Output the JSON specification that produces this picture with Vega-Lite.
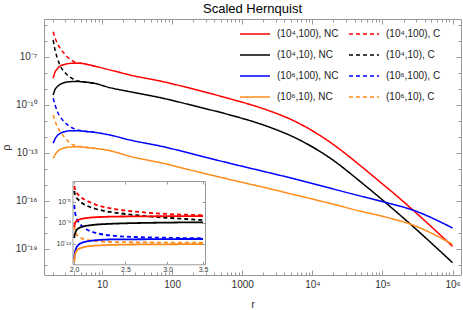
{
  "$schema": "https://vega.github.io/schema/vega-lite/v6.json",
  "width": 417,
  "height": 256,
  "autosize": "none",
  "padding": {"left": 44, "top": 19, "right": 2, "bottom": 35},
  "title": {"text": "Scaled Hernquist", "anchor": "middle", "frame": "group", "fontSize": 13, "fontWeight": "normal", "font": "Liberation Sans", "color": "#000000", "baseline": "alphabetic", "offset": -8},
  "config": {
    "font": "Liberation Sans",
    "view": {"stroke": "#999999", "strokeWidth": 1},
    "axis": {"grid": false, "domain": false, "tickColor": "#999999", "labelColor": "#333333", "labelFont": "Liberation Sans", "titleFont": "Liberation Sans", "titleColor": "#333333", "titleFontWeight": "normal", "tickWidth": 1}
  },
  "datasets": {
    "main": [
      {"s": "(10⁴,100), C", "r": 2.01, "rho": 3.81e-6}, {"s": "(10⁴,100), C", "r": 2.14, "rho": 1.54e-6}, {"s": "(10⁴,100), C", "r": 2.31, "rho": 7.18e-7}, {"s": "(10⁴,100), C", "r": 2.52, "rho": 3.65e-7}, {"s": "(10⁴,100), C", "r": 2.88, "rho": 1.70e-7}, {"s": "(10⁴,100), C", "r": 3.2, "rho": 1.0e-7}, {"s": "(10⁴,100), C", "r": 3.5, "rho": 7.29e-8}, {"s": "(10⁴,100), C", "r": 4.0, "rho": 5.08e-8}, {"s": "(10⁴,100), C", "r": 4.45, "rho": 4.28e-8}, {"s": "(10⁴,100), C", "r": 5.0, "rho": 4.06e-8}, {"s": "(10⁴,100), C", "r": 5.54, "rho": 3.77e-8}, {"s": "(10⁴,100), C", "r": 7.7, "rho": 2.74e-8},
      {"s": "(10⁴,10), C", "r": 2.01, "rho": 1.155e-6}, {"s": "(10⁴,10), C", "r": 2.14, "rho": 2.74e-7}, {"s": "(10⁴,10), C", "r": 2.31, "rho": 8.30e-8}, {"s": "(10⁴,10), C", "r": 2.52, "rho": 2.94e-8}, {"s": "(10⁴,10), C", "r": 2.88, "rho": 1.24e-8}, {"s": "(10⁴,10), C", "r": 3.2, "rho": 7.50e-9}, {"s": "(10⁴,10), C", "r": 3.5, "rho": 5.46e-9}, {"s": "(10⁴,10), C", "r": 4.0, "rho": 3.87e-9}, {"s": "(10⁴,10), C", "r": 4.45, "rho": 3.16e-9}, {"s": "(10⁴,10), C", "r": 5.0, "rho": 2.94e-9}, {"s": "(10⁴,10), C", "r": 5.54, "rho": 2.75e-9}, {"s": "(10⁴,10), C", "r": 7.7, "rho": 2.27e-9},
      {"s": "(10⁶,100), C", "r": 2.01, "rho": 2.62e-10}, {"s": "(10⁶,100), C", "r": 2.14, "rho": 1.0e-10}, {"s": "(10⁶,100), C", "r": 2.31, "rho": 3.81e-11}, {"s": "(10⁶,100), C", "r": 2.52, "rho": 1.91e-11}, {"s": "(10⁶,100), C", "r": 2.88, "rho": 9.04e-12}, {"s": "(10⁶,100), C", "r": 3.2, "rho": 5.87e-12}, {"s": "(10⁶,100), C", "r": 3.5, "rho": 4.40e-12}, {"s": "(10⁶,100), C", "r": 4.0, "rho": 3.30e-12}, {"s": "(10⁶,100), C", "r": 4.45, "rho": 2.74e-12}, {"s": "(10⁶,100), C", "r": 5.0, "rho": 2.48e-12}, {"s": "(10⁶,100), C", "r": 5.54, "rho": 2.31e-12}, {"s": "(10⁶,100), C", "r": 7.7, "rho": 1.97e-12},
      {"s": "(10⁶,10), C", "r": 2.01, "rho": 2.37e-11}, {"s": "(10⁶,10), C", "r": 2.14, "rho": 1.0e-11}, {"s": "(10⁶,10), C", "r": 2.31, "rho": 4.40e-12}, {"s": "(10⁶,10), C", "r": 2.52, "rho": 2.21e-12}, {"s": "(10⁶,10), C", "r": 2.88, "rho": 1.04e-12}, {"s": "(10⁶,10), C", "r": 3.2, "rho": 6.04e-13}, {"s": "(10⁶,10), C", "r": 3.5, "rho": 4.04e-13}, {"s": "(10⁶,10), C", "r": 4.0, "rho": 3.16e-13}, {"s": "(10⁶,10), C", "r": 4.45, "rho": 2.74e-13}, {"s": "(10⁶,10), C", "r": 5.0, "rho": 2.51e-13}, {"s": "(10⁶,10), C", "r": 5.54, "rho": 2.31e-13}, {"s": "(10⁶,10), C", "r": 7.7, "rho": 1.97e-13},
      {"s": "(10⁴,100), NC", "r": 2.01, "rho": 4.67e-9}, {"s": "(10⁴,100), NC", "r": 2.14, "rho": 1.155e-8}, {"s": "(10⁴,100), NC", "r": 2.31, "rho": 1.83e-8}, {"s": "(10⁴,100), NC", "r": 2.52, "rho": 2.74e-8}, {"s": "(10⁴,100), NC", "r": 2.88, "rho": 3.40e-8}, {"s": "(10⁴,100), NC", "r": 3.2, "rho": 3.76e-8}, {"s": "(10⁴,100), NC", "r": 3.5, "rho": 3.98e-8}, {"s": "(10⁴,100), NC", "r": 4.0, "rho": 4.10e-8}, {"s": "(10⁴,100), NC", "r": 4.45, "rho": 4.10e-8}, {"s": "(10⁴,100), NC", "r": 5.0, "rho": 4.04e-8}, {"s": "(10⁴,100), NC", "r": 5.54, "rho": 3.76e-8}, {"s": "(10⁴,100), NC", "r": 7.7, "rho": 2.74e-8}, {"s": "(10⁴,100), NC", "r": 13, "rho": 1.54e-8}, {"s": "(10⁴,100), NC", "r": 25, "rho": 7.50e-9}, {"s": "(10⁴,100), NC", "r": 74.6, "rho": 2.86e-9}, {"s": "(10⁴,100), NC", "r": 223, "rho": 8.80e-10}, {"s": "(10⁴,100), NC", "r": 665, "rho": 2.45e-10}, {"s": "(10⁴,100), NC", "r": 1986, "rho": 5.90e-11}, {"s": "(10⁴,100), NC", "r": 5929, "rho": 8.60e-12}, {"s": "(10⁴,100), NC", "r": 17700, "rho": 4.90e-13}, {"s": "(10⁴,100), NC", "r": 52700, "rho": 1.20e-14}, {"s": "(10⁴,100), NC", "r": 101600, "rho": 1.10e-15}, {"s": "(10⁴,100), NC", "r": 126800, "rho": 4.95e-16}, {"s": "(10⁴,100), NC", "r": 269000, "rho": 2.85e-17}, {"s": "(10⁴,100), NC", "r": 1000000, "rho": 1.45e-19},
      {"s": "(10⁴,10), NC", "r": 2.01, "rho": 4.22e-10}, {"s": "(10⁴,10), NC", "r": 2.14, "rho": 9.31e-10}, {"s": "(10⁴,10), NC", "r": 2.31, "rho": 1.43e-9}, {"s": "(10⁴,10), NC", "r": 2.52, "rho": 1.91e-9}, {"s": "(10⁴,10), NC", "r": 2.88, "rho": 2.48e-9}, {"s": "(10⁴,10), NC", "r": 3.2, "rho": 2.74e-9}, {"s": "(10⁴,10), NC", "r": 3.5, "rho": 2.86e-9}, {"s": "(10⁴,10), NC", "r": 4.0, "rho": 2.94e-9}, {"s": "(10⁴,10), NC", "r": 4.45, "rho": 2.94e-9}, {"s": "(10⁴,10), NC", "r": 5.0, "rho": 2.86e-9}, {"s": "(10⁴,10), NC", "r": 5.54, "rho": 2.74e-9}, {"s": "(10⁴,10), NC", "r": 7.7, "rho": 2.27e-9}, {"s": "(10⁴,10), NC", "r": 13, "rho": 1.21e-9}, {"s": "(10⁴,10), NC", "r": 25, "rho": 6.78e-10}, {"s": "(10⁴,10), NC", "r": 74.6, "rho": 2.62e-10}, {"s": "(10⁴,10), NC", "r": 223, "rho": 8.10e-11}, {"s": "(10⁴,10), NC", "r": 665, "rho": 2.40e-11}, {"s": "(10⁴,10), NC", "r": 1986, "rho": 5.70e-12}, {"s": "(10⁴,10), NC", "r": 5929, "rho": 8.20e-13}, {"s": "(10⁴,10), NC", "r": 17700, "rho": 5.00e-14}, {"s": "(10⁴,10), NC", "r": 52700, "rho": 1.20e-15}, {"s": "(10⁴,10), NC", "r": 101600, "rho": 1.10e-16}, {"s": "(10⁴,10), NC", "r": 126800, "rho": 4.80e-17}, {"s": "(10⁴,10), NC", "r": 269000, "rho": 2.70e-18}, {"s": "(10⁴,10), NC", "r": 1000000, "rho": 1.40e-20},
      {"s": "(10⁶,100), NC", "r": 2.01, "rho": 4.04e-13}, {"s": "(10⁶,100), NC", "r": 2.14, "rho": 7.50e-13}, {"s": "(10⁶,100), NC", "r": 2.31, "rho": 1.24e-12}, {"s": "(10⁶,100), NC", "r": 2.52, "rho": 1.66e-12}, {"s": "(10⁶,100), NC", "r": 2.88, "rho": 2.11e-12}, {"s": "(10⁶,100), NC", "r": 3.2, "rho": 2.37e-12}, {"s": "(10⁶,100), NC", "r": 3.5, "rho": 2.44e-12}, {"s": "(10⁶,100), NC", "r": 4.0, "rho": 2.48e-12}, {"s": "(10⁶,100), NC", "r": 4.45, "rho": 2.48e-12}, {"s": "(10⁶,100), NC", "r": 5.0, "rho": 2.40e-12}, {"s": "(10⁶,100), NC", "r": 5.54, "rho": 2.30e-12}, {"s": "(10⁶,100), NC", "r": 7.7, "rho": 1.97e-12}, {"s": "(10⁶,100), NC", "r": 13, "rho": 1.33e-12}, {"s": "(10⁶,100), NC", "r": 25, "rho": 6.49e-13}, {"s": "(10⁶,100), NC", "r": 74.6, "rho": 2.48e-13}, {"s": "(10⁶,100), NC", "r": 223, "rho": 7.50e-14}, {"s": "(10⁶,100), NC", "r": 665, "rho": 2.27e-14}, {"s": "(10⁶,100), NC", "r": 1986, "rho": 7.20e-15}, {"s": "(10⁶,100), NC", "r": 5929, "rho": 2.25e-15}, {"s": "(10⁶,100), NC", "r": 17700, "rho": 6.40e-16}, {"s": "(10⁶,100), NC", "r": 52700, "rho": 1.86e-16}, {"s": "(10⁶,100), NC", "r": 101600, "rho": 9.00e-17}, {"s": "(10⁶,100), NC", "r": 126800, "rho": 7.00e-17}, {"s": "(10⁶,100), NC", "r": 269000, "rho": 2.74e-17}, {"s": "(10⁶,100), NC", "r": 1000000, "rho": 2.05e-18},
      {"s": "(10⁶,10), NC", "r": 2.01, "rho": 4.67e-14}, {"s": "(10⁶,10), NC", "r": 2.14, "rho": 8.05e-14}, {"s": "(10⁶,10), NC", "r": 2.31, "rho": 1.21e-13}, {"s": "(10⁶,10), NC", "r": 2.52, "rho": 1.66e-13}, {"s": "(10⁶,10), NC", "r": 2.88, "rho": 2.05e-13}, {"s": "(10⁶,10), NC", "r": 3.2, "rho": 2.27e-13}, {"s": "(10⁶,10), NC", "r": 3.5, "rho": 2.37e-13}, {"s": "(10⁶,10), NC", "r": 4.0, "rho": 2.44e-13}, {"s": "(10⁶,10), NC", "r": 4.45, "rho": 2.48e-13}, {"s": "(10⁶,10), NC", "r": 5.0, "rho": 2.40e-13}, {"s": "(10⁶,10), NC", "r": 5.54, "rho": 2.30e-13}, {"s": "(10⁶,10), NC", "r": 7.7, "rho": 1.97e-13}, {"s": "(10⁶,10), NC", "r": 13, "rho": 1.39e-13}, {"s": "(10⁶,10), NC", "r": 25, "rho": 6.20e-14}, {"s": "(10⁶,10), NC", "r": 74.6, "rho": 2.27e-14}, {"s": "(10⁶,10), NC", "r": 223, "rho": 6.90e-15}, {"s": "(10⁶,10), NC", "r": 665, "rho": 2.21e-15}, {"s": "(10⁶,10), NC", "r": 1986, "rho": 7.30e-16}, {"s": "(10⁶,10), NC", "r": 5929, "rho": 2.30e-16}, {"s": "(10⁶,10), NC", "r": 17700, "rho": 7.18e-17}, {"s": "(10⁶,10), NC", "r": 52700, "rho": 2.10e-17}, {"s": "(10⁶,10), NC", "r": 101600, "rho": 1.10e-17}, {"s": "(10⁶,10), NC", "r": 126800, "rho": 8.60e-18}, {"s": "(10⁶,10), NC", "r": 269000, "rho": 3.20e-18}, {"s": "(10⁶,10), NC", "r": 1000000, "rho": 1.97e-19}
    ],
    "inset": [
      {"s": "(10⁴,100), C", "r": 2.003, "rho": 1.12e-2}, {"s": "(10⁴,100), C", "r": 2.005, "rho": 5.78e-3}, {"s": "(10⁴,100), C", "r": 2.01, "rho": 2.40e-3}, {"s": "(10⁴,100), C", "r": 2.02, "rho": 8.04e-4}, {"s": "(10⁴,100), C", "r": 2.04, "rho": 2.15e-4}, {"s": "(10⁴,100), C", "r": 2.07, "rho": 5.78e-5}, {"s": "(10⁴,100), C", "r": 2.1, "rho": 2.40e-5}, {"s": "(10⁴,100), C", "r": 2.15, "rho": 8.04e-6}, {"s": "(10⁴,100), C", "r": 2.2, "rho": 2.93e-6}, {"s": "(10⁴,100), C", "r": 2.3, "rho": 8.96e-7}, {"s": "(10⁴,100), C", "r": 2.4, "rho": 4.07e-7}, {"s": "(10⁴,100), C", "r": 2.6, "rho": 1.55e-7}, {"s": "(10⁴,100), C", "r": 2.8, "rho": 8.04e-8}, {"s": "(10⁴,100), C", "r": 3.0, "rho": 5.18e-8}, {"s": "(10⁴,100), C", "r": 3.25, "rho": 3.81e-8}, {"s": "(10⁴,100), C", "r": 3.5, "rho": 3.06e-8},
      {"s": "(10⁴,10), C", "r": 2.003, "rho": 1.245e-3}, {"s": "(10⁴,10), C", "r": 2.005, "rho": 5.18e-4}, {"s": "(10⁴,10), C", "r": 2.01, "rho": 2.15e-4}, {"s": "(10⁴,10), C", "r": 2.02, "rho": 7.19e-5}, {"s": "(10⁴,10), C", "r": 2.04, "rho": 2.40e-5}, {"s": "(10⁴,10), C", "r": 2.07, "rho": 6.46e-6}, {"s": "(10⁴,10), C", "r": 2.1, "rho": 2.69e-6}, {"s": "(10⁴,10), C", "r": 2.15, "rho": 9.77e-7}, {"s": "(10⁴,10), C", "r": 2.2, "rho": 4.64e-7}, {"s": "(10⁴,10), C", "r": 2.3, "rho": 1.69e-7}, {"s": "(10⁴,10), C", "r": 2.4, "rho": 8.77e-8}, {"s": "(10⁴,10), C", "r": 2.6, "rho": 3.34e-8}, {"s": "(10⁴,10), C", "r": 2.8, "rho": 1.66e-8}, {"s": "(10⁴,10), C", "r": 3.0, "rho": 9.77e-9}, {"s": "(10⁴,10), C", "r": 3.25, "rho": 5.78e-9}, {"s": "(10⁴,10), C", "r": 3.5, "rho": 3.41e-9},
      {"s": "(10⁶,100), C", "r": 2.003, "rho": 2.69e-6}, {"s": "(10⁶,100), C", "r": 2.005, "rho": 4.64e-7}, {"s": "(10⁶,100), C", "r": 2.01, "rho": 8.04e-8}, {"s": "(10⁶,100), C", "r": 2.02, "rho": 1.12e-8}, {"s": "(10⁶,100), C", "r": 2.04, "rho": 1.55e-9}, {"s": "(10⁶,100), C", "r": 2.07, "rho": 2.69e-10}, {"s": "(10⁶,100), C", "r": 2.1, "rho": 8.96e-11}, {"s": "(10⁶,100), C", "r": 2.15, "rho": 2.62e-11}, {"s": "(10⁶,100), C", "r": 2.2, "rho": 1.245e-11}, {"s": "(10⁶,100), C", "r": 2.3, "rho": 5.18e-12}, {"s": "(10⁶,100), C", "r": 2.4, "rho": 3.34e-12}, {"s": "(10⁶,100), C", "r": 2.6, "rho": 2.15e-12}, {"s": "(10⁶,100), C", "r": 2.8, "rho": 1.73e-12}, {"s": "(10⁶,100), C", "r": 3.0, "rho": 1.52e-12}, {"s": "(10⁶,100), C", "r": 3.25, "rho": 1.33e-12}, {"s": "(10⁶,100), C", "r": 3.5, "rho": 1.22e-12},
      {"s": "(10⁶,10), C", "r": 2.003, "rho": 2.69e-10}, {"s": "(10⁶,10), C", "r": 2.005, "rho": 7.19e-11}, {"s": "(10⁶,10), C", "r": 2.01, "rho": 2.40e-11}, {"s": "(10⁶,10), C", "r": 2.02, "rho": 8.04e-12}, {"s": "(10⁶,10), C", "r": 2.04, "rho": 2.69e-12}, {"s": "(10⁶,10), C", "r": 2.07, "rho": 1.12e-12}, {"s": "(10⁶,10), C", "r": 2.1, "rho": 7.19e-13}, {"s": "(10⁶,10), C", "r": 2.15, "rho": 4.64e-13}, {"s": "(10⁶,10), C", "r": 2.2, "rho": 3.41e-13}, {"s": "(10⁶,10), C", "r": 2.3, "rho": 2.62e-13}, {"s": "(10⁶,10), C", "r": 2.4, "rho": 2.30e-13}, {"s": "(10⁶,10), C", "r": 2.6, "rho": 2.11e-13}, {"s": "(10⁶,10), C", "r": 2.8, "rho": 1.93e-13}, {"s": "(10⁶,10), C", "r": 3.0, "rho": 1.85e-13}, {"s": "(10⁶,10), C", "r": 3.25, "rho": 1.77e-13}, {"s": "(10⁶,10), C", "r": 3.5, "rho": 1.69e-13},
      {"s": "(10⁴,100), NC", "r": 2.003, "rho": 1.73e-10}, {"s": "(10⁴,100), NC", "r": 2.005, "rho": 4.16e-10}, {"s": "(10⁴,100), NC", "r": 2.01, "rho": 1.0e-9}, {"s": "(10⁴,100), NC", "r": 2.02, "rho": 2.11e-9}, {"s": "(10⁴,100), NC", "r": 2.04, "rho": 4.07e-9}, {"s": "(10⁴,100), NC", "r": 2.07, "rho": 6.31e-9}, {"s": "(10⁴,100), NC", "r": 2.1, "rho": 8.20e-9}, {"s": "(10⁴,100), NC", "r": 2.15, "rho": 1.07e-8}, {"s": "(10⁴,100), NC", "r": 2.2, "rho": 1.27e-8}, {"s": "(10⁴,100), NC", "r": 2.3, "rho": 1.52e-8}, {"s": "(10⁴,100), NC", "r": 2.4, "rho": 1.66e-8}, {"s": "(10⁴,100), NC", "r": 2.6, "rho": 1.81e-8}, {"s": "(10⁴,100), NC", "r": 2.8, "rho": 1.89e-8}, {"s": "(10⁴,100), NC", "r": 3.0, "rho": 1.97e-8}, {"s": "(10⁴,100), NC", "r": 3.25, "rho": 2.06e-8}, {"s": "(10⁴,100), NC", "r": 3.5, "rho": 2.15e-8},
      {"s": "(10⁴,10), NC", "r": 2.003, "rho": 1.39e-12}, {"s": "(10⁴,10), NC", "r": 2.005, "rho": 4.16e-12}, {"s": "(10⁴,10), NC", "r": 2.01, "rho": 1.245e-11}, {"s": "(10⁴,10), NC", "r": 2.02, "rho": 3.72e-11}, {"s": "(10⁴,10), NC", "r": 2.04, "rho": 9.77e-11}, {"s": "(10⁴,10), NC", "r": 2.07, "rho": 1.89e-10}, {"s": "(10⁴,10), NC", "r": 2.1, "rho": 2.69e-10}, {"s": "(10⁴,10), NC", "r": 2.15, "rho": 3.81e-10}, {"s": "(10⁴,10), NC", "r": 2.2, "rho": 4.95e-10}, {"s": "(10⁴,10), NC", "r": 2.3, "rho": 6.46e-10}, {"s": "(10⁴,10), NC", "r": 2.4, "rho": 7.69e-10}, {"s": "(10⁴,10), NC", "r": 2.6, "rho": 9.57e-10}, {"s": "(10⁴,10), NC", "r": 2.8, "rho": 1.09e-9}, {"s": "(10⁴,10), NC", "r": 3.0, "rho": 1.19e-9}, {"s": "(10⁴,10), NC", "r": 3.25, "rho": 1.30e-9}, {"s": "(10⁴,10), NC", "r": 3.5, "rho": 1.36e-9},
      {"s": "(10⁶,100), NC", "r": 2.003, "rho": 1.39e-16}, {"s": "(10⁶,100), NC", "r": 2.005, "rho": 8.04e-16}, {"s": "(10⁶,100), NC", "r": 2.01, "rho": 3.72e-15}, {"s": "(10⁶,100), NC", "r": 2.02, "rho": 1.73e-14}, {"s": "(10⁶,100), NC", "r": 2.04, "rho": 7.05e-14}, {"s": "(10⁶,100), NC", "r": 2.07, "rho": 1.69e-13}, {"s": "(10⁶,100), NC", "r": 2.1, "rho": 2.62e-13}, {"s": "(10⁶,100), NC", "r": 2.15, "rho": 4.07e-13}, {"s": "(10⁶,100), NC", "r": 2.2, "rho": 5.30e-13}, {"s": "(10⁶,100), NC", "r": 2.3, "rho": 6.89e-13}, {"s": "(10⁶,100), NC", "r": 2.4, "rho": 7.52e-13}, {"s": "(10⁶,100), NC", "r": 2.6, "rho": 7.85e-13}, {"s": "(10⁶,100), NC", "r": 2.8, "rho": 8.20e-13}, {"s": "(10⁶,100), NC", "r": 3.0, "rho": 8.57e-13}, {"s": "(10⁶,100), NC", "r": 3.25, "rho": 8.96e-13}, {"s": "(10⁶,100), NC", "r": 3.5, "rho": 8.96e-13},
      {"s": "(10⁶,10), NC", "r": 2.003, "rho": 3.72e-17}, {"s": "(10⁶,10), NC", "r": 2.005, "rho": 2.15e-16}, {"s": "(10⁶,10), NC", "r": 2.01, "rho": 1.0e-15}, {"s": "(10⁶,10), NC", "r": 2.02, "rho": 3.72e-15}, {"s": "(10⁶,10), NC", "r": 2.04, "rho": 1.12e-14}, {"s": "(10⁶,10), NC", "r": 2.07, "rho": 2.06e-14}, {"s": "(10⁶,10), NC", "r": 2.1, "rho": 2.93e-14}, {"s": "(10⁶,10), NC", "r": 2.15, "rho": 4.16e-14}, {"s": "(10⁶,10), NC", "r": 2.2, "rho": 4.95e-14}, {"s": "(10⁶,10), NC", "r": 2.3, "rho": 6.17e-14}, {"s": "(10⁶,10), NC", "r": 2.4, "rho": 7.05e-14}, {"s": "(10⁶,10), NC", "r": 2.6, "rho": 8.04e-14}, {"s": "(10⁶,10), NC", "r": 2.8, "rho": 8.39e-14}, {"s": "(10⁶,10), NC", "r": 3.0, "rho": 8.77e-14}, {"s": "(10⁶,10), NC", "r": 3.25, "rho": 9.16e-14}, {"s": "(10⁶,10), NC", "r": 3.5, "rho": 9.57e-14}
    ]
  },
  "layer": [
    {
      "data": {"name": "main"},
      "layer": [
        {
          "mark": {"type": "line", "strokeWidth": 1.5, "interpolate": "monotone", "clip": true},
          "encoding": {
            "x": {"field": "r", "type": "quantitative", "scale": {"type": "log", "domain": [1.488, 1320000], "nice": false},
              "axis": {"orient": "bottom", "values": [10, 100, 1000, 10000, 100000, 1000000], "labelExpr": "datum.value < 5000 ? format(datum.value, 'd') : '10' + (datum.value < 50000 ? '⁴' : datum.value < 500000 ? '⁵' : '⁶')", "tickSize": -5, "labelPadding": 9, "labelFontSize": 10, "title": "r", "titleFontSize": 11, "titlePadding": 9}},
            "y": {"field": "rho", "type": "quantitative", "scale": {"type": "log", "domain": [2.37e-21, 2.37e-5], "nice": false},
              "axis": {"orient": "left", "values": [1e-7, 1e-10, 1e-13, 1e-16, 1e-19], "labelExpr": "'10⁻' + (datum.value > 5e-9 ? '⁷' : datum.value > 5e-12 ? '¹⁰' : datum.value > 5e-15 ? '¹³' : datum.value > 5e-18 ? '¹⁶' : '¹⁹')", "tickSize": -5, "labelPadding": 12, "labelFontSize": 10, "title": "ρ", "titleFontSize": 11, "titlePadding": 4}},
            "color": {"field": "s", "type": "nominal",
              "scale": {"domain": ["(10⁴,100), NC", "(10⁴,10), NC", "(10⁶,100), NC", "(10⁶,10), NC", "(10⁴,100), C", "(10⁴,10), C", "(10⁶,100), C", "(10⁶,10), C"],
                "range": ["#ff0000", "#000000", "#0000ff", "#ff8c1a", "#ff0000", "#000000", "#0000ff", "#ff8c1a"]},
              "legend": {"orient": "none", "legendX": 195, "legendY": -1, "columns": 2, "title": null, "symbolType": "stroke", "symbolSize": 900, "symbolStrokeWidth": 1.5, "labelFont": "Liberation Sans", "labelFontSize": 10, "labelColor": "#222222", "labelOffset": 6, "rowPadding": 0, "columnPadding": 7, "labelLimit": 200}},
            "strokeDash": {"field": "s", "type": "nominal",
              "scale": {"domain": ["(10⁴,100), NC", "(10⁴,10), NC", "(10⁶,100), NC", "(10⁶,10), NC", "(10⁴,100), C", "(10⁴,10), C", "(10⁶,100), C", "(10⁶,10), C"],
                "range": [[1, 0], [1, 0], [1, 0], [1, 0], [4, 3], [4, 3], [4, 3], [4, 3]]}}
          }
        },
        {
          "mark": {"type": "line", "opacity": 0},
          "encoding": {
            "x": {"field": "r", "type": "quantitative", "axis": {"orient": "bottom", "values": [2, 3, 4, 5, 6, 7, 8, 9, 20, 30, 40, 50, 60, 70, 80, 90, 200, 300, 400, 500, 600, 700, 800, 900, 2000, 3000, 4000, 5000, 6000, 7000, 8000, 9000, 20000, 30000, 40000, 50000, 60000, 70000, 80000, 90000, 200000, 300000, 400000, 500000, 600000, 700000, 800000, 900000], "labels": false, "tickSize": -3, "title": null}},
            "y": {"field": "rho", "type": "quantitative", "axis": {"orient": "left", "values": [1e-5, 1e-6, 1e-8, 1e-9, 1e-11, 1e-12, 1e-14, 1e-15, 1e-17, 1e-18, 1e-20], "labels": false, "tickSize": -3, "title": null}},
            "detail": {"field": "s"}
          }
        },
        {
          "mark": {"type": "line", "opacity": 0},
          "encoding": {
            "x": {"field": "r", "type": "quantitative", "axis": {"orient": "top", "values": [10, 100, 1000, 10000, 100000, 1000000], "labels": false, "tickSize": -5, "title": null}},
            "y": {"field": "rho", "type": "quantitative", "axis": {"orient": "right", "values": [1e-7, 1e-10, 1e-13, 1e-16, 1e-19], "labels": false, "tickSize": -5, "title": null}},
            "detail": {"field": "s"}
          }
        },
        {
          "mark": {"type": "line", "opacity": 0},
          "encoding": {
            "x": {"field": "r", "type": "quantitative", "axis": {"orient": "top", "values": [2, 3, 4, 5, 6, 7, 8, 9, 20, 30, 40, 50, 60, 70, 80, 90, 200, 300, 400, 500, 600, 700, 800, 900, 2000, 3000, 4000, 5000, 6000, 7000, 8000, 9000, 20000, 30000, 40000, 50000, 60000, 70000, 80000, 90000, 200000, 300000, 400000, 500000, 600000, 700000, 800000, 900000], "labels": false, "tickSize": -3, "title": null}},
            "y": {"field": "rho", "type": "quantitative", "axis": {"orient": "right", "values": [1e-5, 1e-6, 1e-8, 1e-9, 1e-11, 1e-12, 1e-14, 1e-15, 1e-17, 1e-18, 1e-20], "labels": false, "tickSize": -3, "title": null}},
            "detail": {"field": "s"}
          }
        }
      ],
      "resolve": {"axis": {"x": "independent", "y": "independent"}}
    },
    {
      "data": {"name": "inset"},
      "layer": [
        {
          "mark": {"type": "line", "strokeWidth": 1.8, "interpolate": "monotone"},
          "encoding": {
            "x": {"field": "r", "type": "quantitative", "scale": {"type": "log", "domain": [1.987, 3.53], "nice": false, "range": [28.5, 161]},
              "axis": {"orient": "bottom", "offset": -10.7, "values": [2, 2.5, 3, 3.5], "format": ".1f", "tickSize": -3, "labelPadding": 4, "labelFontSize": 7, "domain": true, "domainColor": "#999999", "title": null}},
            "y": {"field": "rho", "type": "quantitative", "scale": {"type": "log", "domain": [1.35e-17, 0.1], "nice": false, "range": [245.3, 162]},
              "axis": {"orient": "left", "offset": -28.5, "values": [1e-5, 1e-9, 1e-13], "labelExpr": "'10⁻' + (datum.value > 1e-7 ? '⁵' : datum.value > 1e-11 ? '⁹' : '¹³')", "tickSize": -3, "labelPadding": 5, "labelFontSize": 7, "domain": true, "domainColor": "#999999", "title": null}},
            "color": {"field": "s", "type": "nominal", "legend": null},
            "strokeDash": {"field": "s", "type": "nominal", "legend": null}
          }
        },
        {
          "mark": {"type": "line", "opacity": 0},
          "encoding": {
            "x": {"field": "r", "type": "quantitative", "axis": {"orient": "top", "offset": -162, "values": [2, 2.5, 3, 3.5], "labels": false, "tickSize": -3, "domain": true, "domainColor": "#999999", "title": null}},
            "y": {"field": "rho", "type": "quantitative", "axis": {"orient": "right", "offset": -256, "values": [1e-5, 1e-9, 1e-13], "labels": false, "tickSize": -3, "domain": true, "domainColor": "#999999", "title": null}},
            "detail": {"field": "s"}
          }
        }
      ],
      "resolve": {"axis": {"x": "independent", "y": "independent"}}
    }
  ],
  "resolve": {"scale": {"x": "independent", "y": "independent"}}
}
